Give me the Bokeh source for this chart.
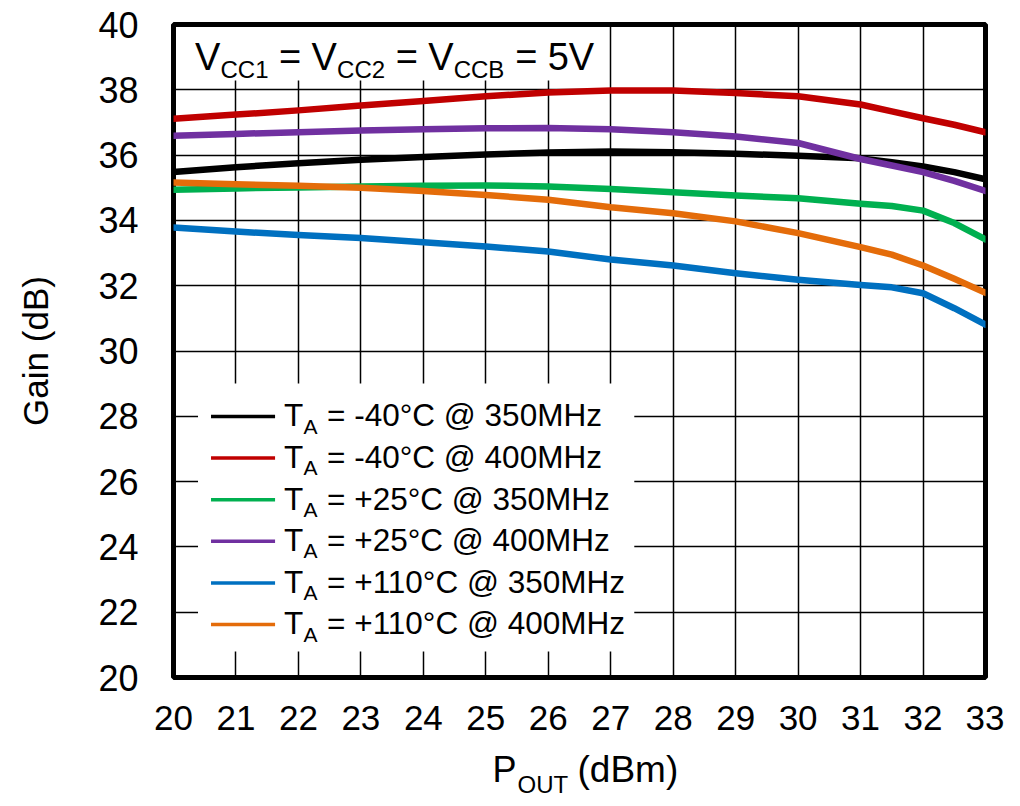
from bokeh.plotting import figure
from bokeh.layouts import column
from bokeh.models import Label, BoxAnnotation, FixedTicker, ColumnDataSource, Range1d
from bokeh.embed import file_html
from bokeh.resources import INLINE

# ---------------- data ----------------
pout = [20, 21, 22, 23, 24, 25, 26, 27, 28, 29, 30, 31, 31.5, 32, 32.5, 33]
gain_m40_350 = [35.48, 35.63, 35.75, 35.86, 35.94, 36.02, 36.08, 36.11, 36.09, 36.04, 35.98, 35.90, 35.78, 35.65, 35.48, 35.26]
gain_m40_400 = [37.11, 37.24, 37.37, 37.52, 37.66, 37.80, 37.92, 37.98, 37.98, 37.90, 37.80, 37.55, 37.34, 37.13, 36.93, 36.70]
gain_p25_350 = [34.94, 34.98, 35.01, 35.04, 35.06, 35.07, 35.04, 34.96, 34.86, 34.76, 34.68, 34.51, 34.44, 34.30, 33.92, 33.42]
gain_p25_400 = [36.59, 36.65, 36.70, 36.75, 36.79, 36.82, 36.83, 36.79, 36.70, 36.57, 36.37, 35.88, 35.68, 35.48, 35.21, 34.90]
gain_p110_350 = [33.78, 33.66, 33.55, 33.46, 33.33, 33.20, 33.05, 32.80, 32.62, 32.38, 32.18, 32.02, 31.95, 31.77, 31.31, 30.81]
gain_p110_400 = [35.16, 35.11, 35.06, 35.00, 34.90, 34.78, 34.63, 34.40, 34.22, 33.97, 33.61, 33.18, 32.95, 32.62, 32.21, 31.78]

series_temps = ["-40°C", "-40°C", "+25°C", "+25°C", "+110°C", "+110°C"]
series_freqs = ["350MHz", "400MHz", "350MHz", "400MHz", "350MHz", "400MHz"]
series_values = [gain_m40_350, gain_m40_400, gain_p25_350, gain_p25_400, gain_p110_350, gain_p110_400]
series_colors = ["#000000", "#C00000", "#00B050", "#7030A0", "#0070C0", "#E46C0A"]

x_ticks = list(range(20, 34))
y_ticks = list(range(20, 41, 2))

FONT = "Liberation Sans"

# ---------------- main figure ----------------
W, H1, H2 = 1004, 742, 56
ML, MR = 173, 19
p = figure(width=W, height=H1, x_range=(20, 33), y_range=(20, 40),
           output_backend="svg", toolbar_location=None,
           min_border_left=ML, min_border_right=MR,
           min_border_top=24, min_border_bottom=H1 - 677)
p.background_fill_color = "white"
p.border_fill_color = "white"
p.outline_line_color = "black"
p.outline_line_width = 5
p.outline_line_alpha = 1.0

for g, t in ((p.xgrid, x_ticks), (p.ygrid, y_ticks)):
    g.ticker = FixedTicker(ticks=t)
    g.grid_line_color = "black"
    g.grid_line_width = 1.5
    g.grid_line_alpha = 1.0

p.xaxis.ticker = FixedTicker(ticks=x_ticks)
p.yaxis.ticker = FixedTicker(ticks=y_ticks)
for ax in (p.xaxis, p.yaxis):
    ax.axis_line_color = None
    ax.major_tick_line_color = None
    ax.minor_tick_line_color = None
    ax.major_tick_out = 0
    ax.major_tick_in = 0
    ax.major_label_text_color = "black"
    ax.major_label_text_font = FONT
    ax.axis_label_text_font = FONT
    ax.axis_label_text_font_style = "normal"
    ax.axis_label_text_color = "black"
p.xaxis.major_label_text_font_size = "35px"
p.xaxis.major_label_standoff = 28
p.yaxis.major_label_text_font_size = "36px"
p.yaxis.major_label_standoff = 35
p.yaxis.axis_label = "Gain (dB)"
p.yaxis.axis_label_text_font_size = "35px"
p.yaxis.axis_label_standoff = 40

# reference-pixel -> data helpers, used only to place annotations
FL, FT, FR, FB = 172.5, 23.0, 984.0, 676.0
def dx(px):
    return 20 + (px - FL) * 13.0 / (FR - FL)
def dy(py):
    return 40 - (py - FT) * 20.0 / (FB - FT)

# white backgrounds behind title and legend (they hide the grid)
p.add_layout(BoxAnnotation(left=dx(176), right=dx(598), top=dy(25.5), bottom=dy(79),
                           fill_color="white", fill_alpha=1.0, line_color=None, level="underlay"))
p.add_layout(BoxAnnotation(left=dx(197), right=dx(633), top=dy(382), bottom=dy(650),
                           fill_color="white", fill_alpha=1.0, line_color=None, level="underlay"))

# ---------------- curves ----------------
for vals, col in zip(series_values, series_colors):
    src = ColumnDataSource(dict(x=pout, y=vals))
    p.line("x", "y", source=src, line_color=col, line_width=6.5,
           line_join="round", line_cap="round")

def lab(fig, text, px, baseline, size, conv=True):
    # place text so that its alphabetic baseline is at the given page pixel row
    ymid = baseline - 0.355 * size
    x = dx(px) if conv else px
    y = dy(ymid) if conv else ymid
    fig.add_layout(Label(x=x, y=y, text=text, text_font=FONT,
                         text_font_size="%gpx" % size, text_color="black",
                         text_align="left", text_baseline="middle"))

# ---------------- title with subscripts ----------------
for txt, px, py, sz in [("V", 194, 69, 38), ("CC1", 219.5, 77, 24),
                        ("=", 278, 69, 38), ("V", 310.5, 69, 38), ("CC2", 336, 77, 24),
                        ("=", 394.5, 69, 38), ("V", 427, 69, 38), ("CCB", 452.5, 77, 24),
                        ("=", 514, 69, 38), ("5V", 546.5, 69, 38)]:
    lab(p, txt, px, py, sz)

# ---------------- legend ----------------
row0, step = 425.0, 41.6
for i, (tmp, frq, col) in enumerate(zip(series_temps, series_freqs, series_colors)):
    base = row0 + i * step
    lab(p, "T", 283, base, 31.5)
    lab(p, "A", 302.5, base + 7, 21)
    lab(p, "= %s @ %s" % (tmp, frq), 326, base, 31.5)
    p.segment(x0=[dx(210)], x1=[dx(274)], y0=[dy(base - 10)], y1=[dy(base - 10)],
              line_color=col, line_width=3.5)

# ---------------- x axis title strip (P_OUT with subscript) ----------------
p2 = figure(width=W, height=H2, title=None,
            x_range=Range1d(ML, W - MR), y_range=Range1d(H1 + H2, H1),
            output_backend="svg", toolbar_location=None,
            x_axis_location=None, y_axis_location=None,
            min_border_left=ML, min_border_right=MR,
            min_border_top=0, min_border_bottom=0)
p2.outline_line_color = None
p2.xgrid.visible = False
p2.ygrid.visible = False
p2.background_fill_color = "white"
p2.border_fill_color = "white"
lab(p2, "P", 492, 782, 36, conv=False)
lab(p2, "OUT", 517, 793, 24, conv=False)
lab(p2, "(dBm)", 577, 782, 37, conv=False)

layout = column(p, p2, spacing=0)
open("out.html", "w").write(file_html(layout, INLINE))
